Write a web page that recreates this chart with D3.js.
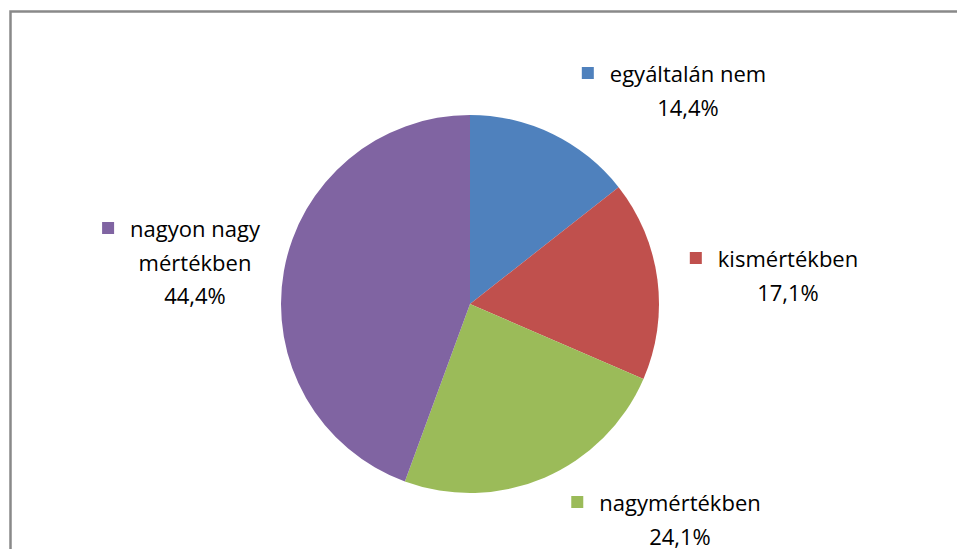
<!DOCTYPE html>
<html>
<head>
<meta charset="utf-8">
<script src="https://cdn.jsdelivr.net/npm/d3@7"></script>
<style>
  body { margin: 0; background: #fff; }
  svg { display: block; }
  text { font-family: "Open Sans", "Noto Sans", sans-serif; fill: #000; }
</style>
</head>
<body>
<div id="chart"></div>
<script>
const categories = ["egyáltalán nem", "kismértékben", "nagymértékben", "nagyon nagy mértékben"];
const values = [14.4, 17.1, 24.1, 44.4];
const colors = ["#4F81BD", "#C0504D", "#9BBB59", "#8064A2"];
// label lines for each slice
const labelLines = [["egyáltalán nem"], ["kismértékben"], ["nagymértékben"], ["nagyon nagy", "mértékben"]];

const w = 957, h = 549;
const cx = 470, cy = 304, r = 189;

const svg = d3.select('#chart').append('svg')
  .attr('width', w)
  .attr('height', h);

// chart area frame (runs off the right and bottom)
svg.append('rect')
  .attr('x', 10.5).attr('y', 11.5)
  .attr('width', w + 20).attr('height', h + 20)
  .attr('fill', 'none')
  .attr('stroke', '#898989')
  .attr('stroke-width', 2.5);

const pie = d3.pie().sort(null).value(d => d)(values);
const arc = d3.arc().innerRadius(0).outerRadius(r);

const g = svg.append('g').attr('transform', `translate(${cx},${cy})`);

g.selectAll('.slice')
  .data(pie)
  .enter().append('path')
  .attr('class', 'slice')
  .attr('d', arc)
  .attr('fill', (d, i) => colors[i]);

// label anchor positions (centre x of text block, baseline of first line)
const labelPos = [
  { x: 688, y: 82 },
  { x: 788, y: 267 },
  { x: 680, y: 511 },
  { x: 195, y: 237 }
];

const fs = 22, lh = 33.5;

labelPos.forEach((p, i) => {
  const lines = labelLines[i].concat([values[i].toFixed(1).replace('.', ',') + '%']);
  const lg = svg.append('g');
  lines.forEach((t, j) => {
    lg.append('text')
      .attr('x', p.x)
      .attr('y', p.y + j * lh)
      .attr('text-anchor', 'middle')
      .style('font-size', fs + 'px')
      .text(t);
  });
  // legend square in front of the first line
  const first = lg.select('text').node().getBBox();
  lg.append('rect')
    .attr('x', first.x - 28)
    .attr('y', p.y - 15)
    .attr('width', 12)
    .attr('height', 12)
    .attr('fill', colors[i]);
});
</script>
</body>
</html>
